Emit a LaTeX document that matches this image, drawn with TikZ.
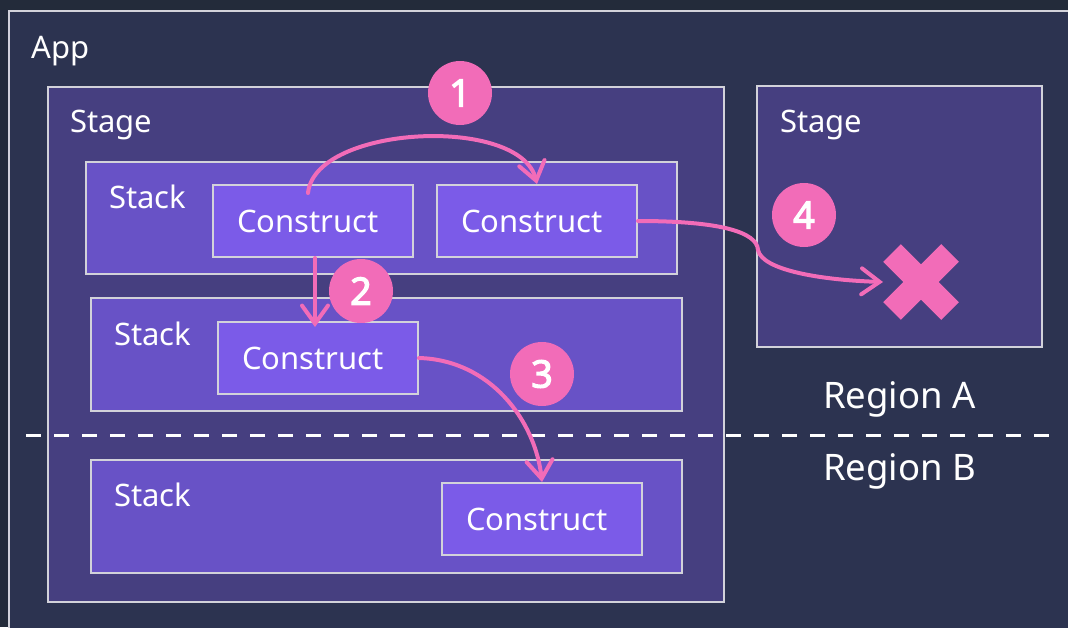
\documentclass[tikz,border=0pt]{standalone}
\usepackage{fontspec}
\setmainfont{Noto Sans}
\newfontfamily\numfont{Noto Sans}[FakeBold=3]
\usetikzlibrary{arrows.meta}
\definecolor{bgdark}{HTML}{232B3A}
\definecolor{appfill}{HTML}{2C3350}
\definecolor{stagefill}{HTML}{463F80}
\definecolor{stackfill}{HTML}{6852C6}
\definecolor{cfill}{HTML}{7B5BE8}
\definecolor{rim}{HTML}{D2D2DA}
\definecolor{hot}{HTML}{F26CB8}
\begin{document}
\begin{tikzpicture}[x=1pt,y=-1pt,
  frame/.style={draw=rim,line width=2pt,inner sep=0pt,anchor=north west},
  stagebox/.style={frame,fill=stagefill},
  stackbox/.style={frame,fill=stackfill,minimum width=591pt,minimum height=113pt},
  cbox/.style={frame,fill=cfill,minimum width=200pt,minimum height=72pt,text=white,font=\fontsize{31}{36}\selectfont},
  lbl/.style={anchor=base west,inner sep=0pt,text=white,font=\fontsize{31}{36}\selectfont},
  badge/.style={circle,fill=hot,minimum size=64pt,inner sep=0pt,text=white,font=\fontsize{38}{44}\numfont},
  flow/.style={draw=hot,line width=4pt,line cap=round,-{Straight Barb[length=18pt,width=26pt,line cap=round]}}]
\useasboundingbox (0,0) rectangle (1068,627);
\fill[bgdark] (0,0) rectangle (1068,627);
% containers
\node[frame,fill=appfill,minimum width=1072pt,minimum height=630pt] (app) at (8,10) {};
\node[stagebox,minimum width=676pt,minimum height=515pt] (stage1) at (47,86) {};
\node[stagebox,minimum width=285pt,minimum height=261pt] (stage2) at (756,85) {};
\node[stackbox,minimum width=591pt,minimum height=112pt] (stack1) at (85,161) {};
\node[stackbox] (stack2) at (90,297) {};
\node[stackbox] (stack3) at (90,459) {};
% constructs
\node[cbox] (c1) at (212,184) {\kern-10pt Construct};
\node[cbox] (c2) at (436,184) {\kern-10pt Construct};
\node[cbox] (c3) at (217,321) {\kern-10pt Construct};
\node[cbox] (c4) at (441,482) {\kern-10pt Construct};
% labels
\node[lbl] (applbl) at (31,58) {App};
\node[lbl] (stagelbl1) at (70,132) {Stage};
\node[lbl] (stagelbl2) at (780,132) {Stage};
\node[lbl] (stacklbl1) at (109,208) {Stack};
\node[lbl] (stacklbl2) at (114,345) {Stack};
\node[lbl] (stacklbl3) at (114,506) {Stack};
\node[lbl,font=\fontsize{36.5}{42}\selectfont] (regiona) at (823,408) {Region A};
\node[lbl,font=\fontsize{36.5}{42}\selectfont] (regionb) at (823,480) {Region B};
% region border
\draw[white,line width=3pt,dash pattern=on 15pt off 13pt] (26,435) -- (1050,435);
% blocked target
\coordinate (cross) at (921,282);
\draw[hot,line width=25pt] ([shift={(-29,-29)}]cross) -- ([shift={(29,29)}]cross);
\draw[hot,line width=25pt] ([shift={(-29,29)}]cross) -- ([shift={(29,-29)}]cross);
% references
\draw[flow] ([xshift=-5pt,yshift=-9pt]c1.north) .. controls (315,125) and (520,115) .. (c2.north);
\draw[flow] ([xshift=2pt]c1.south) -- ([xshift=-3pt,yshift=-6pt]c3.north);
\draw[flow] (c3.east) .. controls (490,360) and (535,420) .. (c4.north);
\draw[flow] (c2.east) .. controls (720,221) and (757,232) .. (758,250) .. controls (762,270) and (820,280) .. ([xshift=-38pt]cross);
% steps
\node[badge] (n1) at (460,93) {1};
\node[badge] (n2) at (361,291) {2};
\node[badge] (n3) at (542,374) {3};
\node[badge] (n4) at (804,215) {4};
\end{tikzpicture}
\end{document}
